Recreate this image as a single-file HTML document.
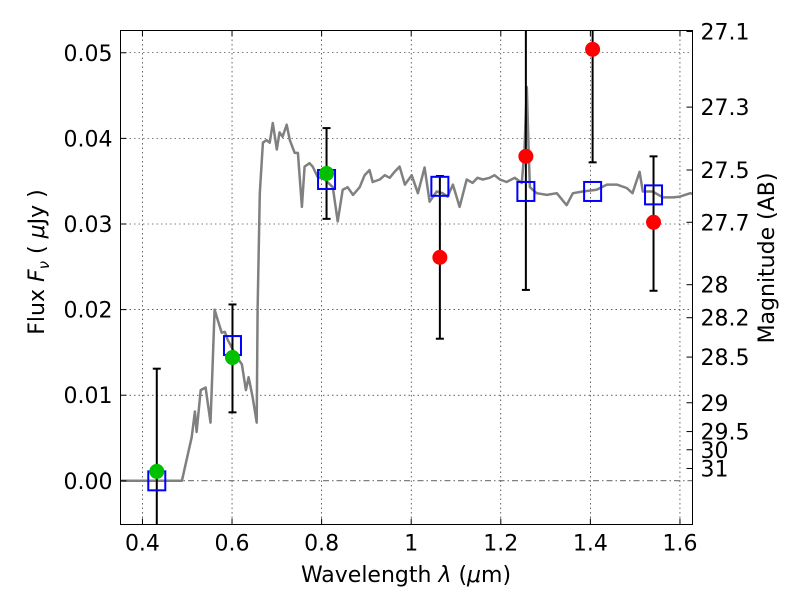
<!DOCTYPE html>
<html><head><meta charset="utf-8"><style>
body{margin:0;background:#fff;}
svg{display:block;font-family:"DejaVu Sans","Liberation Sans",sans-serif;}
</style></head><body>
<svg id="chart" width="800" height="600"></svg>
<script>
const specLam=[0.349,0.488,0.510,0.517,0.521,0.530,0.541,0.552,0.557,0.561,0.568,0.577,0.584,0.590,0.610,0.622,0.631,0.637,0.646,0.655,0.657,0.662,0.669,0.677,0.684,0.691,0.700,0.706,0.713,0.722,0.729,0.740,0.747,0.756,0.762,0.773,0.780,0.791,0.807,0.825,0.836,0.847,0.858,0.870,0.885,0.896,0.907,0.914,0.930,0.941,0.952,0.963,0.974,0.986,1.001,1.015,1.030,1.041,1.057,1.070,1.081,1.093,1.108,1.124,1.137,1.148,1.160,1.175,1.186,1.198,1.213,1.231,1.247,1.253,1.258,1.262,1.265,1.280,1.303,1.325,1.347,1.361,1.383,1.414,1.437,1.459,1.481,1.494,1.510,1.517,1.539,1.562,1.585,1.600,1.623,1.629];
const specFlux=[0,0,0.0051,0.0081,0.0057,0.0106,0.0109,0.0068,0.0141,0.0200,0.0188,0.0173,0.0174,0.0165,0.0145,0.0136,0.0106,0.0121,0.0098,0.0068,0.0200,0.0336,0.0395,0.0398,0.0395,0.0418,0.0387,0.0407,0.0402,0.0416,0.0398,0.0383,0.0383,0.0320,0.0367,0.0371,0.0367,0.0355,0.0352,0.0343,0.0303,0.0340,0.0343,0.0334,0.0343,0.0357,0.0363,0.0349,0.0352,0.0357,0.0354,0.0361,0.0367,0.0346,0.0357,0.0336,0.0366,0.0326,0.0338,0.0336,0.0332,0.0346,0.0320,0.0352,0.0348,0.0354,0.0352,0.0354,0.0357,0.0352,0.0349,0.0354,0.0348,0.0387,0.0460,0.0387,0.0343,0.0336,0.0334,0.0336,0.0322,0.0336,0.0338,0.0340,0.0346,0.0346,0.0342,0.0336,0.0361,0.0338,0.0338,0.0331,0.0331,0.0332,0.0336,0.0335];
const modelLam=[0.432,0.601,0.811,1.064,1.256,1.405,1.541];
const modelFlux=[0.0000,0.0158,0.0352,0.0344,0.0338,0.0338,0.0334];
const obsLam=[0.432,0.601,0.811,1.064,1.256,1.405,1.541];
const obsFlux=[0.0011,0.0144,0.0359,0.0261,0.0379,0.0504,0.0302];
const obsHi=[0.0131,0.0206,0.0412,0.0356,0.0600,0.0650,0.0379];
const obsLo=[-0.0110,0.0080,0.0306,0.0166,0.0223,0.0372,0.0222];
const obsDetected=[true,true,true,false,false,false,false];
const xTicks=[0.4,0.6,0.8,1.0,1.2,1.4,1.6];
const xTickLabels=["0.4","0.6","0.8","1","1.2","1.4","1.6"];
const yTicks=[0,0.01,0.02,0.03,0.04,0.05];
const yTickLabels=["0.00","0.01","0.02","0.03","0.04","0.05"];
const magTicks=[27.1,27.3,27.5,27.7,28,28.2,28.5,29,29.5,30,31];
const magTickLabels=["27.1","27.3","27.5","27.7","28","28.2","28.5","29","29.5","30","31"];

const L=120.5,R=692.5,T=30.5,B=524.5;
const xMin=0.351,xMax=1.628,yMin=-0.0051,yMax=0.0526;
const X=v=>L+(v-xMin)/(xMax-xMin)*(R-L);
const Y=v=>B-(v-yMin)/(yMax-yMin)*(B-T);
const NS="http://www.w3.org/2000/svg";
const svg=document.getElementById('chart');
function mk(tag,attrs,parent){const e=document.createElementNS(NS,tag);for(const k in attrs)e.setAttribute(k,attrs[k]);(parent||svg).appendChild(e);return e;}
const clip=mk('clipPath',{id:'pc'});mk('rect',{x:L,y:T,width:R-L,height:B-T},clip);

const grid=mk('g',{});


xTicks.forEach(t=>{mk('line',{x1:X(t),x2:X(t),y1:T,y2:B,stroke:'#000','stroke-width':0.6,'stroke-dasharray':'1.5,3'},grid);});
yTicks.forEach(t=>{if(t===0)return;mk('line',{x1:L,x2:R,y1:Y(t),y2:Y(t),stroke:'#000','stroke-width':0.6,'stroke-dasharray':'1.5,3'},grid);});
const zl=mk('line',{x1:L,x2:R,y1:Y(0),y2:Y(0),stroke:'#000','stroke-width':0.7,'stroke-dasharray':'6,3,1.5,3'});



const pg=mk('g',{'clip-path':'url(#pc)'});
let d='';specLam.forEach((l,i)=>{d+=(i?'L':'M')+X(l).toFixed(1)+','+Y(specFlux[i]).toFixed(1);});
const sp=mk('path',{d:d,fill:'none',stroke:'#808080','stroke-width':2.5,'stroke-linejoin':'round'},pg);



obsLam.forEach((l,i)=>{
  const g=mk('g',{},pg);
  
  
  const x=X(l);
  mk('line',{x1:x,x2:x,y1:Y(obsHi[i]),y2:Y(obsLo[i]),stroke:'#000','stroke-width':2},g);
  mk('line',{x1:x-4,x2:x+4,y1:Y(obsHi[i]),y2:Y(obsHi[i]),stroke:'#000','stroke-width':2},g);
  mk('line',{x1:x-4,x2:x+4,y1:Y(obsLo[i]),y2:Y(obsLo[i]),stroke:'#000','stroke-width':2},g);
});
modelLam.forEach((l,i)=>{
  const r=mk('rect',{x:X(l)-8.5,y:Y(modelFlux[i])-9.5,width:17,height:19,fill:'none',stroke:'#0000ff','stroke-width':2},pg);
  
  
});
obsLam.forEach((l,i)=>{
  const c=mk('circle',{cx:X(l),cy:Y(obsFlux[i]),r:7.5,fill:obsDetected[i]?'#00c000':'#ff0000'},pg);
  
  
});

const fr=mk('rect',{x:L,y:T,width:R-L,height:B-T,fill:'none',stroke:'#000','stroke-width':1});



xTicks.forEach((t,i)=>{
  mk('line',{x1:X(t),x2:X(t),y1:B,y2:B-6,stroke:'#000'});
  mk('line',{x1:X(t),x2:X(t),y1:T,y2:T+6,stroke:'#000'});
  const tx=mk('text',{x:X(t),y:B+26,'font-size':22,'text-anchor':'middle'});
  tx.textContent=xTickLabels[i];
  
  
});
yTicks.forEach((t,i)=>{
  mk('line',{x1:L,x2:L+6,y1:Y(t),y2:Y(t),stroke:'#000'});
  const tx=mk('text',{x:L-8,y:Y(t)+8,'font-size':22,'text-anchor':'end'});
  tx.textContent=yTickLabels[i];
  
  
});
magTicks.forEach((m,i)=>{
  const f=Math.pow(10,(23.9-m)/2.5);
  mk('line',{x1:R,x2:R-6,y1:Y(f),y2:Y(f),stroke:'#000'});
  const tx=mk('text',{x:R+8,y:Y(f)+8,'font-size':22});
  tx.textContent=magTickLabels[i];
  
  
});
const xl=mk('text',{x:406,y:582,'font-size':22,'text-anchor':'middle'});
xl.innerHTML='Wavelength  <tspan font-style="italic">λ</tspan> (<tspan font-style="italic">μ</tspan>m)';


const yl=mk('text',{x:0,y:0,'font-size':22,'text-anchor':'middle',transform:'translate(44,262) rotate(-90)'});
yl.innerHTML='Flux  <tspan font-style="italic">F</tspan><tspan font-style="italic" font-size="15" dy="5">ν</tspan><tspan dy="-5">  (  </tspan><tspan font-style="italic">μ</tspan>Jy )';


const rl=mk('text',{x:0,y:0,'font-size':22,'text-anchor':'middle',transform:'translate(774,258) rotate(-90)'});
rl.textContent='Magnitude (AB)';


</script>
</body></html>
